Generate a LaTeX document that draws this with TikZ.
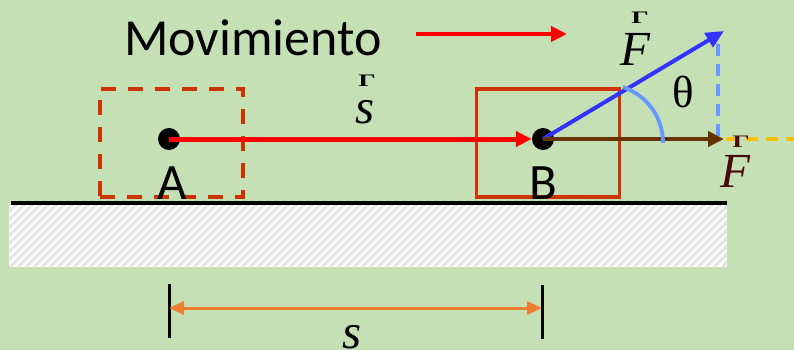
\documentclass[tikz,border=0pt]{standalone}
\usepackage{fontspec}
\setmainfont{Liberation Serif}
\newfontfamily\calfont{Carlito}
\usetikzlibrary{arrows.meta}
\definecolor{bg}{RGB}{197,224,180}
\definecolor{hatchc}{RGB}{226,226,226}
\definecolor{boxc}{RGB}{204,51,0}
\definecolor{sred}{RGB}{255,0,0}
\definecolor{fblue}{RGB}{51,51,255}
\definecolor{lblue}{RGB}{102,153,255}
\definecolor{fbrown}{RGB}{102,51,0}
\definecolor{fdark}{RGB}{70,10,10}
\definecolor{yel}{RGB}{255,192,0}
\definecolor{dimc}{RGB}{237,125,49}
\tikzset{
  dot/.style={circle, fill=black, inner sep=0pt, minimum size=22pt},
  blockbox/.style={draw=boxc, line width=3.8pt, minimum width=143pt, minimum height=108pt, inner sep=0pt},
  sanslbl/.style={font=\calfont\fontsize{51}{60}\selectfont, anchor=base, inner sep=0pt},
  vecl/.style={font=\itshape\fontsize{49}{56}\selectfont, anchor=base, inner sep=0pt},
  veca/.style={font=\bfseries\fontsize{22}{22}\selectfont, anchor=base, inner sep=0pt},
  tip/.style={-{Triangle[length=16pt,width=15pt]}},
  dashln/.style={line width=3.2pt, dash pattern=on 12pt off 8pt},
}
\newcommand{\vecmark}{\scalebox{1.25}[0.8]{Γ}}
\begin{document}
\begin{tikzpicture}[x=1pt,y=-1pt]
\fill[bg] (0,0) rectangle (794,350);
\useasboundingbox (0,0) rectangle (794,350);
% ground
\fill[white] (9,203) rectangle (727,267);
\begin{scope}
\clip (9,203) rectangle (727,267);
\foreach \i in {-70,-62,...,730} \draw[hatchc, line width=2.6pt] (\i,267) -- (\i+64,203);
\end{scope}
\draw[line width=4pt] (11,203) -- (727,203);
% boxes
\node[blockbox, dash pattern=on 15pt off 12pt] (boxA) at (171.5,143) {};
\node[blockbox] (boxB) at (548,143) {};
% dots
\node[dot] (A) at (169,139) {};
\node[dot] (B) at (543,139) {};
\node[sanslbl] (lA) at (172,199) {A};
\node[sanslbl] (lB) at (543,199) {B};
% displacement
\draw[sred, line width=5pt, tip] (A.center) -- (B.west);
\node[vecl] (ls) at (365,123) {s};
\node[veca] (las) at (367,87) {\vecmark};
% forces
\coordinate (Ftip) at (724,31);
\coordinate (Fx) at (724,139);
\coordinate (Vtop) at (718,44);
\coordinate (Vbot) at (718,136);
\coordinate (Yl) at (726,139);
\coordinate (Yr) at (794,139);
\draw[lblue, dashln] (Vtop) -- (Vbot);
\draw[yel, dashln] (Yl) -- (Yr);
\draw[fblue, line width=4pt, -{Triangle[length=18pt,width=16pt]}] (B.center) -- (Ftip);
\draw[fbrown, line width=4pt, tip] (B.center) -- (Fx);
\coordinate (arcS) at (623,87);
\coordinate (arcE) at (663,143);
\draw[lblue, line width=3.8pt] (arcS) .. controls (648,96) and (663,118) .. (arcE);
\node[font=\fontsize{45}{50}\selectfont, anchor=base, inner sep=0pt] (th) at (683,108) {θ};
\node[vecl] (lF) at (635,66) {F};
\node[veca] (laF) at (640,24) {\vecmark};
\node[vecl, text=fdark] (lF2) at (735,187) {F};
\node[veca, text=fdark] (laF2) at (741,147) {\vecmark};
% movement
\node[font=\calfont\fontsize{52}{60}\selectfont, anchor=base west, inner sep=0pt] (mov) at (124,56) {Movimiento};
\coordinate (m1) at (416,34);
\coordinate (m2) at (567,34);
\draw[sred, line width=4.5pt, tip] (m1) -- (m2);
% dimension
\coordinate (d1) at (169,308);
\coordinate (d2) at (542,308);
\draw[line width=3pt] (169,284) -- (169,338);
\draw[line width=3pt] (542,285) -- (542,339);
\draw[dimc, line width=3pt, {Triangle[length=15pt,width=13pt]}-{Triangle[length=15pt,width=13pt]}] (d1) -- (d2);
\node[vecl] (lsd) at (352,348) {s};
\end{tikzpicture}
\end{document}
